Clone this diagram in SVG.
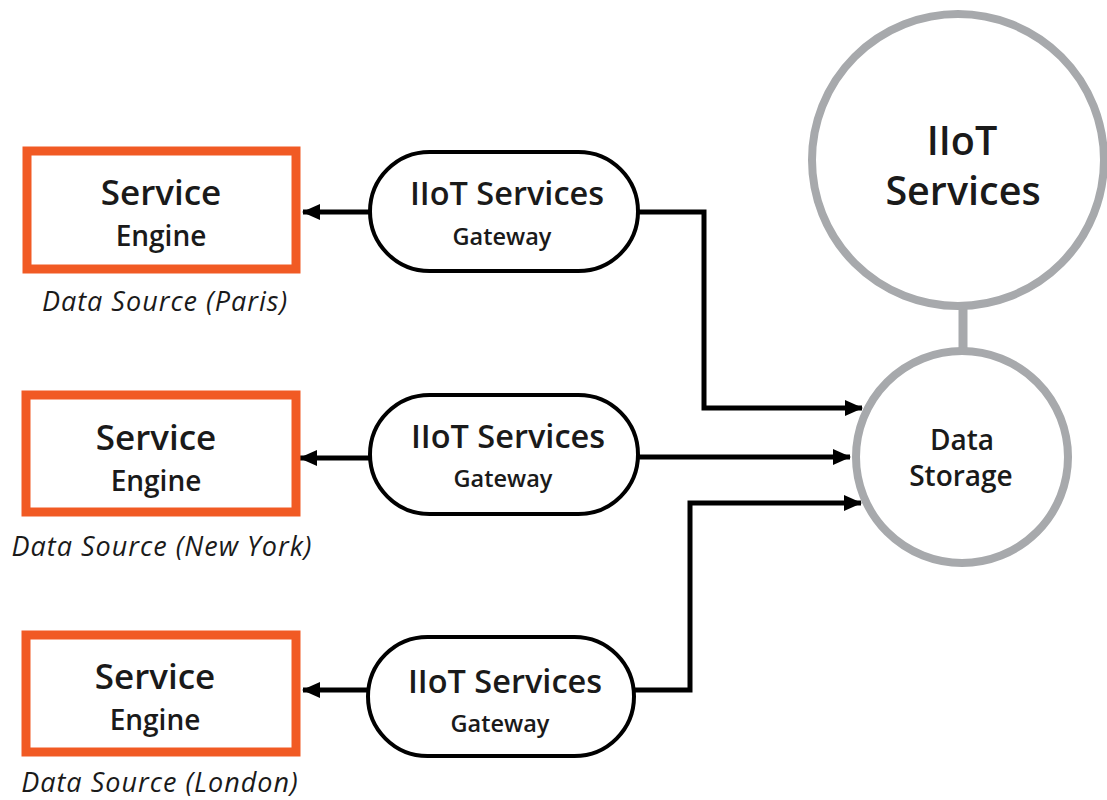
<svg xmlns="http://www.w3.org/2000/svg" width="1107" height="800" viewBox="0 0 1107 800">
  <style>
    .engine { fill: #ffffff; stroke: #f15a24; stroke-width: 9; }
    .gateway { fill: #ffffff; stroke: #000000; stroke-width: 4; }
    .hub { fill: #ffffff; stroke: #a7a9ac; stroke-width: 8; }
    .link { fill: none; stroke: #000000; stroke-width: 5; }
    .t { font-family: "Open Sans", "Noto Sans", sans-serif; fill: #1a1a1a; text-anchor: middle; font-weight: 600; }
    .title { font-size: 35px; }
    .gw { font-size: 32.5px; }
    .sub { font-size: 28px; }
    .small { font-size: 23.5px; }
    .hubtitle { font-size: 39.5px; }
    .caption { font-family: "Open Sans", "Noto Sans", sans-serif; font-style: italic; font-size: 27px; letter-spacing: 1px; fill: #1a1a1a; text-anchor: middle; }
  </style>
  <defs>
    <marker id="arrow" markerUnits="userSpaceOnUse" markerWidth="18" markerHeight="16" refX="17" refY="8" orient="auto">
      <path d="M0,0 L18,8 L0,16 Z" fill="#000000"/>
    </marker>
  </defs>

  <rect width="1107" height="800" fill="#ffffff"/>

  <!-- connectors -->
  <g id="connectors">
    <line class="link" x1="370" y1="212" x2="303" y2="212" marker-end="url(#arrow)"/>
    <line class="link" x1="370" y1="458" x2="300" y2="458" marker-end="url(#arrow)"/>
    <line class="link" x1="368" y1="690" x2="303" y2="690" marker-end="url(#arrow)"/>
    <polyline class="link" points="638,212 704,212 704,408 862,408" marker-end="url(#arrow)"/>
    <line class="link" x1="638" y1="457" x2="850" y2="457" marker-end="url(#arrow)"/>
    <polyline class="link" points="634,690 690,690 690,503 861,503" marker-end="url(#arrow)"/>
    <line x1="963" y1="306" x2="963" y2="350" stroke="#a7a9ac" stroke-width="9"/>
  </g>

  <!-- data source engines -->
  <g id="engine-paris">
    <rect class="engine" x="27" y="151" width="269" height="118"/>
    <text class="t title" x="161" y="205">Service</text>
    <text class="t sub" x="161" y="246">Engine</text>
    <text class="caption" x="165" y="311">Data Source (Paris)</text>
  </g>
  <g id="engine-newyork">
    <rect class="engine" x="26" y="395" width="270" height="117"/>
    <text class="t title" x="156" y="450">Service</text>
    <text class="t sub" x="156" y="491">Engine</text>
    <text class="caption" x="162" y="556">Data Source (New York)</text>
  </g>
  <g id="engine-london">
    <rect class="engine" x="26" y="635" width="270" height="117"/>
    <text class="t title" x="155" y="689">Service</text>
    <text class="t sub" x="155" y="730">Engine</text>
    <text class="caption" x="160" y="792">Data Source (London)</text>
  </g>

  <!-- gateways -->
  <g id="gateway-paris">
    <rect class="gateway" x="370" y="152" width="268" height="119" rx="59.5"/>
    <text class="t gw" x="507" y="205">IIoT Services</text>
    <text class="t small" x="502" y="245">Gateway</text>
  </g>
  <g id="gateway-newyork">
    <rect class="gateway" x="370" y="395" width="268" height="119" rx="59.5"/>
    <text class="t gw" x="508" y="448">IIoT Services</text>
    <text class="t small" x="503" y="487">Gateway</text>
  </g>
  <g id="gateway-london">
    <rect class="gateway" x="368" y="637" width="266" height="119" rx="59.5"/>
    <text class="t gw" x="505" y="693">IIoT Services</text>
    <text class="t small" x="500" y="732">Gateway</text>
  </g>

  <!-- central services -->
  <g id="iiot-services">
    <circle class="hub" cx="958" cy="160" r="146"/>
    <text class="t hubtitle" x="962" y="155">IIoT</text>
    <text class="t hubtitle" x="963" y="205">Services</text>
  </g>
  <g id="data-storage">
    <circle class="hub" cx="962" cy="457" r="106"/>
    <text class="t sub" x="962" y="450">Data</text>
    <text class="t sub" x="961" y="486">Storage</text>
  </g>
</svg>
